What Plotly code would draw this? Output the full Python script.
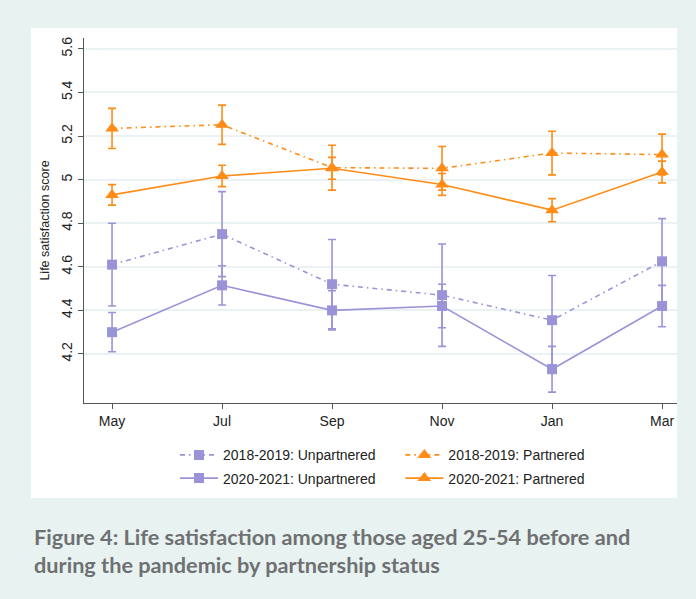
import plotly.graph_objects as go

# Survey months (May to March of the following year)
months = ["May", "Jul", "Sep", "Nov", "Jan", "Mar"]

# Mean life satisfaction and 95% CI half-widths
unp_1819 = [4.61, 4.75, 4.52, 4.47, 4.355, 4.625]
unp_1819_ci = [0.19, 0.195, 0.205, 0.235, 0.205, 0.196]
unp_2021 = [4.30, 4.515, 4.40, 4.42, 4.13, 4.42]
unp_2021_ci = [0.09, 0.09, 0.09, 0.10, 0.105, 0.095]
par_1819 = [5.235, 5.252, 5.055, 5.052, 5.122, 5.115]
par_1819_ci = [0.092, 0.09, 0.103, 0.10, 0.10, 0.094]
par_2021 = [4.93, 5.017, 5.052, 4.978, 4.86, 5.035]
par_2021_ci = [0.047, 0.049, 0.05, 0.05, 0.053, 0.05]

y_ticks = [4.2, 4.4, 4.6, 4.8, 5.0, 5.2, 5.4, 5.6]
y_ticklabels = ["4.2", "4.4", "4.6", "4.8", "5", "5.2", "5.4", "5.6"]

PURPLE = "#9a93d8"
ORANGE = "#ff8c17"
DASHDOT = "5px,4px,1.5px,4px"

x = list(range(len(months)))

series = [
    ("2018-2019: Unpartnered", unp_1819, unp_1819_ci, PURPLE, "square", 10, DASHDOT, "legend", "g1"),
    ("2020-2021: Unpartnered", unp_2021, unp_2021_ci, PURPLE, "square", 10, "solid", "legend", "g2"),
    ("2018-2019: Partnered", par_1819, par_1819_ci, ORANGE, "triangle-up", 12, DASHDOT, "legend2", "g3"),
    ("2020-2021: Partnered", par_2021, par_2021_ci, ORANGE, "triangle-up", 12, "solid", "legend2", "g4"),
]

fig = go.Figure()
for name, vals, ci, color, symbol, size, dash, leg, grp in series:
    fig.add_trace(go.Scatter(
        x=x, y=vals, name=name, mode="lines+markers",
        line=dict(color=color, width=1.6, dash=dash),
        marker=dict(color=color, symbol=symbol, size=size, line=dict(width=0)),
        error_y=dict(type="data", array=ci, visible=True, color=color,
                     thickness=1.6, width=4),
        legend=leg, legendgroup=grp,
    ))

# white panel behind the chart and legend
fig.add_shape(type="rect", xref="paper", yref="paper",
              x0=-0.0894, x1=1.0, y0=-0.2603, y1=1.0274,
              fillcolor="white", line=dict(width=0), layer="below")

fig.add_annotation(
    xref="paper", yref="paper", x=-0.087, y=-0.3255,
    xanchor="left", yanchor="top", align="left", showarrow=False,
    text="<b>Figure 4: Life satisfaction among those aged 25-54 before and<br>during the pandemic by partnership status</b>",
    font=dict(family="Lato", size=21.7, color="#6e7072"),
)

legend_common = dict(
    orientation="v", yanchor="top", xanchor="left",
    bgcolor="rgba(0,0,0,0)", font=dict(family="Liberation Sans, Arial", size=14, color="#222"),
    tracegroupgap=2, itemwidth=38,
)

fig.update_layout(
    width=696, height=599,
    margin=dict(l=84, r=19, t=38, b=196),
    paper_bgcolor="#e8f2f0",
    plot_bgcolor="white",
    font=dict(family="Liberation Sans, Arial", size=13, color="#222"),
    legend=dict(x=0.1535, y=-0.0995, **legend_common),
    legend2=dict(x=0.5335, y=-0.0995, **legend_common),
    xaxis=dict(
        range=[-0.255, 5.136], tickvals=x, ticktext=months,
        showgrid=False, zeroline=False,
        showline=True, linecolor="#555", linewidth=1.3,
        ticks="outside", ticklen=5, tickcolor="#555",
        tickfont=dict(size=14, color="#222"),
    ),
    yaxis=dict(
        range=[3.975, 5.65], tickvals=y_ticks, ticktext=y_ticklabels,
        tickangle=-90,
        showgrid=True, gridcolor="#eaf2f3", gridwidth=1.5, zeroline=False,
        showline=True, linecolor="#555", linewidth=1.3,
        ticks="outside", ticklen=5, tickcolor="#555",
        tickfont=dict(size=14, color="#222"),
        title=dict(text="Life satisfaction score", font=dict(size=12.5, color="#222"), standoff=6),
    ),
)

fig.write_html("out.html")
